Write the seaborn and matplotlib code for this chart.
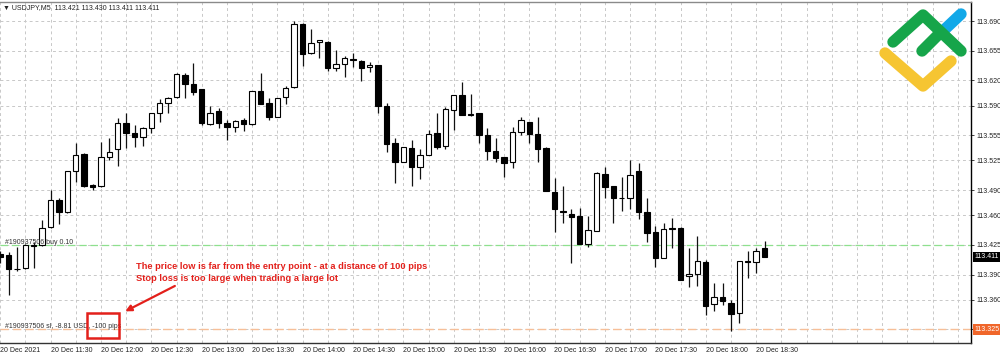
import matplotlib
matplotlib.use("Agg")
import matplotlib.pyplot as plt
import matplotlib.transforms as mtransforms
from matplotlib.lines import Line2D
from matplotlib.patches import Rectangle
import numpy as np
import pandas as pd
import seaborn as sns

# ---------------- data ----------------
symbol = "USDJPY,M5"
start_time = "2021-12-20 11:00"

opens = [113.414, 113.413, 113.396, 113.398, 113.425, 113.425, 113.446, 113.478, 113.464, 113.512,
         113.533, 113.496, 113.495, 113.529, 113.538, 113.569, 113.558, 113.553, 113.564, 113.581,
         113.593, 113.600, 113.626, 113.616, 113.609, 113.568, 113.583, 113.569, 113.565, 113.573,
         113.568, 113.607, 113.593, 113.577, 113.600, 113.612, 113.687, 113.652, 113.665, 113.665,
         113.635, 113.639, 113.645, 113.643, 113.636, 113.638, 113.590, 113.546, 113.523, 113.540,
         113.517, 113.532, 113.558, 113.542, 113.585, 113.603, 113.580, 113.581, 113.555, 113.536,
         113.529, 113.523, 113.559, 113.571, 113.556, 113.540, 113.488, 113.465, 113.462, 113.459,
         113.426, 113.442, 113.509, 113.495, 113.481, 113.480, 113.512, 113.464, 113.440, 113.410,
         113.444, 113.445, 113.388, 113.391, 113.405, 113.355, 113.364, 113.356, 113.345, 113.406,
         113.405, 113.421]
highs = [113.418, 113.417, 113.423, 113.426, 113.428, 113.455, 113.490, 113.480, 113.513, 113.546,
         113.534, 113.497, 113.547, 113.552, 113.575, 113.581, 113.567, 113.565, 113.581, 113.598,
         113.600, 113.629, 113.629, 113.640, 113.609, 113.590, 113.587, 113.573, 113.573, 113.575,
         113.607, 113.629, 113.599, 113.599, 113.613, 113.690, 113.688, 113.680, 113.668, 113.666,
         113.656, 113.649, 113.652, 113.644, 113.642, 113.638, 113.593, 113.551, 113.541, 113.549,
         113.538, 113.561, 113.581, 113.588, 113.603, 113.618, 113.604, 113.581, 113.564, 113.551,
         113.529, 113.565, 113.577, 113.571, 113.577, 113.541, 113.504, 113.495, 113.468, 113.469,
         113.459, 113.511, 113.517, 113.495, 113.506, 113.526, 113.522, 113.481, 113.448, 113.451,
         113.457, 113.446, 113.421, 113.436, 113.407, 113.380, 113.380, 113.360, 113.406, 113.418,
         113.421, 113.430]
lows = [113.404, 113.366, 113.394, 113.397, 113.398, 113.424, 113.445, 113.450, 113.463, 113.500,
        113.494, 113.490, 113.494, 113.526, 113.519, 113.540, 113.541, 113.542, 113.558, 113.571,
        113.581, 113.599, 113.599, 113.603, 113.567, 113.567, 113.564, 113.549, 113.559, 113.560,
        113.567, 113.592, 113.573, 113.577, 113.592, 113.611, 113.637, 113.651, 113.646, 113.631,
        113.631, 113.624, 113.636, 113.619, 113.630, 113.581, 113.535, 113.498, 113.523, 113.495,
        113.503, 113.532, 113.538, 113.538, 113.561, 113.579, 113.578, 113.546, 113.526, 113.523,
        113.506, 113.516, 113.555, 113.546, 113.523, 113.489, 113.440, 113.451, 113.404, 113.426,
        113.423, 113.442, 113.480, 113.451, 113.465, 113.467, 113.456, 113.429, 113.399, 113.410,
        113.421, 113.384, 113.375, 113.377, 113.342, 113.347, 113.354, 113.323, 113.333, 113.386,
        113.392, 113.411]
closes = [113.411, 113.396, 113.397, 113.425, 113.424, 113.445, 113.478, 113.464, 113.512, 113.532,
          113.495, 113.494, 113.529, 113.535, 113.569, 113.558, 113.553, 113.564, 113.581, 113.593,
          113.599, 113.627, 113.616, 113.606, 113.569, 113.581, 113.569, 113.565, 113.572, 113.568,
          113.607, 113.592, 113.577, 113.599, 113.611, 113.687, 113.651, 113.664, 113.668, 113.635,
          113.639, 113.646, 113.644, 113.635, 113.638, 113.590, 113.545, 113.523, 113.541, 113.517,
          113.532, 113.556, 113.541, 113.586, 113.603, 113.579, 113.579, 113.555, 113.536, 113.528,
          113.522, 113.559, 113.573, 113.556, 113.539, 113.489, 113.467, 113.464, 113.458, 113.426,
          113.443, 113.510, 113.494, 113.481, 113.480, 113.508, 113.464, 113.439, 113.410, 113.444,
          113.445, 113.384, 113.391, 113.406, 113.353, 113.364, 113.359, 113.343, 113.406, 113.405,
          113.418, 113.411]

price_ticks = [113.690, 113.655, 113.620, 113.590, 113.555, 113.525, 113.490,
               113.460, 113.425, 113.390, 113.360, 113.325]
xtick_labels = ["20 Dec 2021", "20 Dec 11:30", "20 Dec 12:00", "20 Dec 12:30", "20 Dec 13:00",
                "20 Dec 13:30", "20 Dec 14:00", "20 Dec 14:30", "20 Dec 15:00", "20 Dec 15:30",
                "20 Dec 16:00", "20 Dec 16:30", "20 Dec 17:00", "20 Dec 17:30", "20 Dec 18:00",
                "20 Dec 18:30"]
entry_price = 113.425
stop_price = 113.325
trade_label = "#190937506 buy 0.10"
stop_label = "#190937506 sl, -8.81 USD, -100 pips"
note_lines = ["The price low is far from the entry point - at a distance of 100 pips",
              "Stop loss is too large when trading a large lot"]

# ---------------- build frame ----------------
df = pd.DataFrame({
    "time": pd.date_range(start_time, periods=len(opens), freq="5min"),
    "open": opens, "high": highs, "low": lows, "close": closes,
})
df["idx"] = np.arange(len(df))
df["bull"] = df["close"] >= df["open"]
df["body_lo"] = df[["open", "close"]].min(axis=1)
df["body_h"] = (df["close"] - df["open"]).abs().clip(lower=0.0004)

sns.set_theme(style="white")
plt.rcParams["font.family"] = ["Liberation Sans", "DejaVu Sans"]

W, H = 1000, 357
fig = plt.figure(figsize=(W / 100, H / 100), dpi=100)
fig.patch.set_facecolor("white")
ax_top_px, ax_bot_px, ax_right_px = 1.5, 343, 971
ax = fig.add_axes([0, (H - ax_bot_px) / H, ax_right_px / W, (ax_bot_px - ax_top_px) / H])
ax.set_facecolor("white")

px_per_bar = 8.4
ax.set_xlim(-0.1 / px_per_bar, (ax_right_px - 0.1) / px_per_bar)
ax.set_ylim(113.3090, 113.7131)

# grid
grid_kw = dict(color="#c8c8c8", lw=0.7, ls=(0, (3, 3)), zorder=0)
for g in range(0, 117, 3):
    ax.axvline(g, **grid_kw)
for p in price_ticks:
    ax.axhline(p, **grid_kw)

# trade lines
ax.axhline(entry_price, color="#8ee08e", lw=0.9, ls=(0, (6, 3)), zorder=1)
ax.axhline(stop_price, color="#f7bf98", lw=1.0, ls=(0, (6, 3)), zorder=1)

# candles
ax.vlines(df["idx"], df["low"], df["high"], color="#111111", lw=0.9, zorder=2)
ax.bar(df["idx"], df["body_h"], bottom=df["body_lo"], width=0.62,
       color=np.where(df["bull"], "white", "black"), edgecolor="black", linewidth=0.8, zorder=3)

# axes styling
ax.spines["left"].set_visible(False)
ax.spines["right"].set_color("black")
ax.spines["right"].set_linewidth(1.0)
ax.spines["bottom"].set_color("#333333")
ax.spines["bottom"].set_linewidth(1.0)
ax.spines["top"].set_color("#8a8a8a")
ax.spines["top"].set_linewidth(1.0)

ax.yaxis.tick_right()
ax.set_yticks(price_ticks)
ax.set_yticklabels([f"{v:.3f}" for v in price_ticks])
ax.tick_params(axis="y", length=2.5, width=0.6, pad=1.5, labelsize=5, colors="#222222")
ax.set_xticks(np.arange(0, 6 * len(xtick_labels), 6))
ax.set_xticklabels(xtick_labels, ha="left")
ax.tick_params(axis="x", length=2.5, width=0.6, pad=0.5, labelsize=5, colors="#222222")
ax.set_xlabel("")
ax.set_ylabel("")

# price boxes on the right
ytrans = mtransforms.blended_transform_factory(ax.transAxes, ax.transData)
ax.text(1.004, df["close"].iloc[-1], f"{df['close'].iloc[-1]:.3f}", transform=ytrans,
        ha="left", va="center", fontsize=5, color="white", clip_on=False, zorder=10,
        bbox=dict(boxstyle="square,pad=0.25", fc="black", ec="none"))
ax.text(1.004, stop_price, f"{stop_price:.3f}", transform=ytrans,
        ha="left", va="center", fontsize=5, color="white", clip_on=False, zorder=10,
        bbox=dict(boxstyle="square,pad=0.25", fc="#f0662a", ec="none"))

# header
last = df.iloc[-1]
fig.text(3 / W, 1 - 8 / H,
         f"\u25BC {symbol}  {last['open']:.3f} {last['high']:.3f} {last['low']:.3f} {last['close']:.3f}",
         ha="left", va="center", fontsize=5, color="#222222")

# trade labels
ax.text(0.6, entry_price + 0.0035, trade_label, ha="left", va="center", fontsize=5, color="#333333", zorder=6)
ax.text(0.6, stop_price + 0.0030, stop_label, ha="left", va="center", fontsize=5, color="#333333", zorder=6)

# annotation
red = "#e3201b"
note_font = ["Liberation Sans Narrow", "Liberation Sans", "DejaVu Sans"]
ax.text(16.2, 113.400, note_lines[0], ha="left", va="center", fontsize=6.7, fontweight="bold",
        color=red, family=note_font, zorder=7)
ax.text(16.2, 113.385, note_lines[1], ha="left", va="center", fontsize=6.7, fontweight="bold",
        color=red, family=note_font, zorder=7)
ax.annotate("", xy=(14.6, 113.345), xytext=(21.1, 113.378),
            arrowprops=dict(arrowstyle="-|>", color=red, lw=1.6, mutation_scale=9), zorder=7)
ax.add_patch(Rectangle((10.35, 113.315), 3.8, 0.030, fill=False, ec=red, lw=1.8, zorder=7))

# logo (decoration, figure pixel coordinates)
def fp(pts):
    return [p[0] / W for p in pts], [1 - p[1] / H for p in pts]

for pts, col in [([(885, 53), (923, 86), (951, 61)], "#f6c532"),
                 ([(943, 31), (961, 14)], "#12a8e8"),
                 ([(893, 42), (923, 15), (961, 51)], "#16a54a"),
                 ([(922, 51), (940, 33)], "#16a54a")]:
    xs, ys = fp(pts)
    fig.add_artist(Line2D(xs, ys, color=col, lw=8.2, solid_capstyle="round",
                          solid_joinstyle="round", transform=fig.transFigure, zorder=20))

fig.savefig("out.png", dpi=100, facecolor="white")
